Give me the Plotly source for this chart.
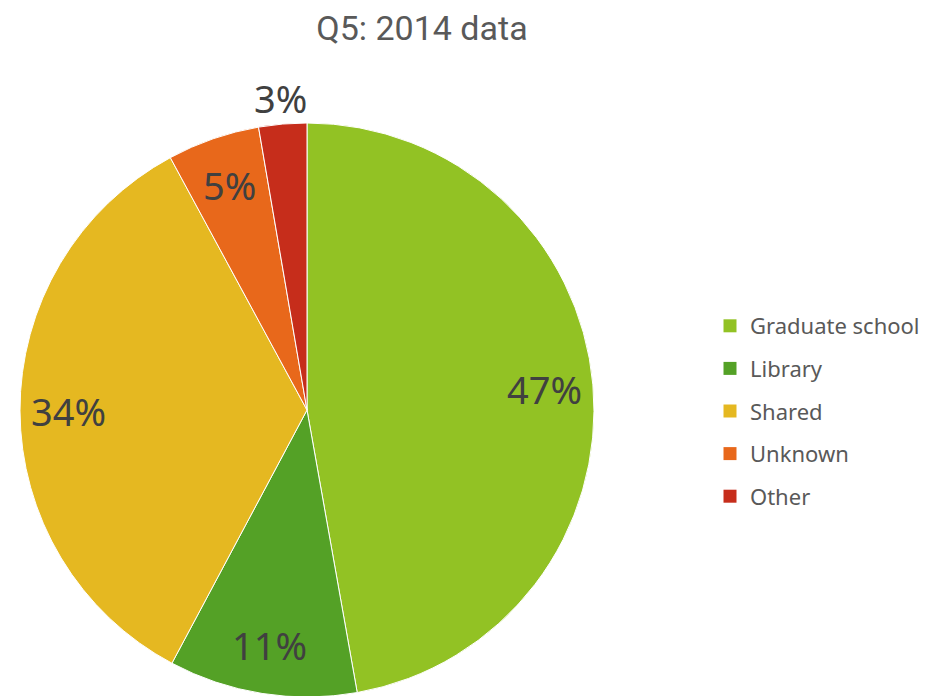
import math
import plotly.graph_objects as go

# Q5 answers, 2014 (share of responses)
categories = ['Graduate school', 'Library', 'Shared', 'Unknown', 'Other']
shares = [47.2, 10.6, 34.3, 5.2, 2.7]
colors = ['#92C224', '#54A126', '#E5B821', '#E8681B', '#C62D1B']
outside = ['Other']

FONT = 'Noto Sans'
W, H = 928, 696
ML, MT, MB = 12, 115, 7
PW, PH = W - ML, H - MT - MB
R = PH / 2                      # pie radius in px (limited by height)
CX, CY = ML + R, MT + R         # pie centre in px

fig = go.Figure()

fig.add_trace(go.Pie(
    labels=categories,
    values=shares,
    sort=False,
    direction='clockwise',
    rotation=0,
    marker=dict(colors=colors, line=dict(color='white', width=1)),
    textinfo='none',
    domain=dict(x=[0, 2 * R / PW], y=[0, 1]),
    showlegend=False,
    hoverinfo='label+percent',
))

# percentage labels along each slice bisector
total = sum(shares)
cum = 0
for name, v in zip(categories, shares):
    ang = 2 * math.pi * (cum + v / 2) / total
    cum += v
    rf = 1.09 if name in outside else 0.83
    px = CX + rf * R * math.sin(ang)
    py = CY - rf * R * math.cos(ang)
    fig.add_annotation(
        x=(px - ML) / PW, y=(H - MB - py) / PH, xref='paper', yref='paper',
        text='%d%%' % round(100 * v / total), showarrow=False,
        xanchor='center', yanchor='middle',
        font=dict(family=FONT, size=38, color='#404040'),
    )

# legend entries (one group per category so the gap between rows can be set)
for name, c in zip(categories, colors):
    fig.add_trace(go.Scatter(
        x=[None], y=[None], mode='markers', name=name, legendgroup=name,
        marker=dict(symbol='square', size=13, color=c),
    ))

fig.update_layout(
    width=W, height=H,
    paper_bgcolor='white', plot_bgcolor='white',
    margin=dict(l=ML, r=0, t=MT, b=MB, autoexpand=False),
    title=dict(text='Q5: 2014 data', x=414 / W, xanchor='center',
               y=1 - 20 / H, yanchor='middle', xref='container', yref='container',
               font=dict(family='Roboto', size=34, color='#595959')),
    xaxis=dict(visible=False), yaxis=dict(visible=False),
    legend=dict(x=(702 - ML) / PW, xanchor='left', y=(H - MB - 403) / PH, yanchor='middle',
                font=dict(family=FONT, size=22, color='#595959'),
                tracegroupgap=11, bgcolor='rgba(0,0,0,0)'),
)

fig.write_html('out.html')
